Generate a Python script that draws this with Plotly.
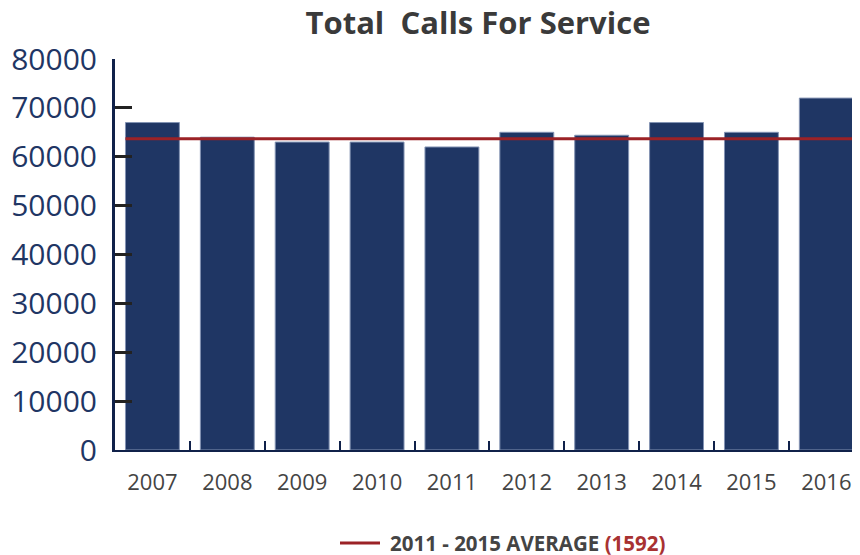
import plotly.graph_objects as go

years = ["2007", "2008", "2009", "2010", "2011", "2012", "2013", "2014", "2015", "2016"]
calls = [67000, 64000, 63000, 63000, 62000, 65000, 64400, 67000, 65000, 72000]
average_value = 63700
average_label = "2011 - 2015 AVERAGE"
average_note = "(1592)"
y_ticks = [0, 10000, 20000, 30000, 40000, 50000, 60000, 70000, 80000]
y_tick_text = ["0", "10000", "20000", "30000", "40000", "50000", "60000", "70000", "80000"]

xpos = list(range(len(years)))

# page body has an 8px margin; figure coordinates are offset accordingly
OFF = 8
L, R_EDGE, TOP, BOT = 115 - OFF, 860 - OFF, 59 - OFF, 450 - OFF
PW, PH = R_EDGE - L, BOT - TOP

fig = go.Figure()
fig.add_trace(go.Bar(
    x=xpos, y=calls, width=0.72,
    marker=dict(color="#1f3664", line=dict(color="#8393b3", width=1)),
    showlegend=False, hoverinfo="y",
))
fig.add_trace(go.Scatter(
    x=[-0.36, 9.45], y=[average_value, average_value], mode="lines",
    line=dict(color="#9b2226", width=3),
    showlegend=False,
))

leg_y = -((543 - OFF) - BOT) / PH
fig.add_shape(type="line", xref="paper", yref="paper",
              x0=(340 - OFF - L) / PW, x1=(380 - OFF - L) / PW,
              y0=leg_y, y1=leg_y,
              line=dict(color="#9b2226", width=3))
fig.add_annotation(xref="paper", yref="paper",
                   x=(388 - OFF - L) / PW, y=leg_y,
                   xanchor="left", yanchor="middle", showarrow=False,
                   text=f"<b>{average_label} <span style='color:#a83232'>{average_note}</span></b>",
                   font=dict(family="Open Sans", size=20.5, color="#444444"))

fig.update_layout(
    width=860, height=555,
    margin=dict(l=L, r=860 - R_EDGE, t=TOP, b=555 - BOT, autoexpand=False),
    paper_bgcolor="white", plot_bgcolor="white",
    title=dict(text="<b>Total  Calls For Service</b>", x=(478 - OFF) / 860, xanchor="center",
               xref="container",
               y=1 - (23 - OFF) / 555, yanchor="middle",
               font=dict(family="Open Sans", size=31, color="#3a3a3a")),
    xaxis=dict(
        range=[-0.5, 9.45], tickmode="array", tickvals=xpos, ticktext=years,
        showgrid=False, zeroline=False, showline=True, linecolor="#10214a", linewidth=2,
        ticks="", ticklabelstandoff=12, automargin=False,
        tickfont=dict(family="Open Sans", size=22, color="#444444"),
        minor=dict(tickmode="array", tickvals=[i + 0.5 for i in range(9)],
                   ticks="inside", ticklen=9, tickwidth=2, tickcolor="#10214a", showgrid=False),
    ),
    yaxis=dict(
        range=[0, 80000], tickmode="array", tickvals=y_ticks, ticktext=y_tick_text,
        showgrid=False, zeroline=False, automargin=False,
        showline=True, linecolor="#10214a", linewidth=3,
        ticks="inside", ticklen=17, tickwidth=3, tickcolor="#222222",
        ticklabelstandoff=9,
        tickfont=dict(family="Open Sans", size=30, color="#1f3664"),
    ),
)

fig.write_html("out.html")
